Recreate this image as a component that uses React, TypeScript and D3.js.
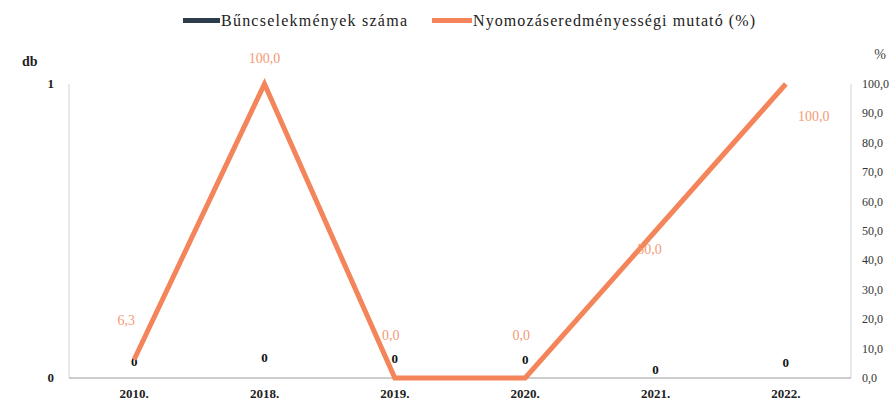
import React from 'react';
import * as d3 from 'd3';

const years = ['2010.', '2018.', '2019.', '2020.', '2021.', '2022.'];
const crimeCounts = [0, 0, 0, 0, 0, 0];
const successRate = [6.3, 100, 0, 0, 50, 100];
const rightTicks = [0, 10, 20, 30, 40, 50, 60, 70, 80, 90, 100];
const leftTicks = [0, 1];

// per-point label nudges (the scan places them unevenly)
const rateLabelOffset: [number, number][] = [[-8, -34], [0, -21], [-4, -38], [-4, -38], [-6, 23], [28, 37]];
const countLabelOffset = [-17, -21, -20, -19, -9, -16];

const W = 895, H = 406;
const M = { left: 69, right: 44, top: 84, bottom: 28 };
const ORANGE = '#F4845A';
const LABEL_ORANGE = '#F59A75';
const DARK = '#2E3D4C';
const FONT = '"Liberation Serif", "DejaVu Serif", serif';

export default function App() {
  const x = d3.scaleBand<string>().domain(years).range([M.left, W - M.right]);
  const yL = d3.scaleLinear().domain([0, 1]).range([H - M.bottom, M.top]);
  const yR = d3.scaleLinear().domain([0, 100]).range([H - M.bottom, M.top]);
  const cx = (i: number) => (x(years[i]) ?? 0) + x.bandwidth() / 2;
  const line = d3.line<number>().x((_, i) => cx(i)).y((d) => yR(d));
  const fmt = (v: number) => v.toFixed(1).replace('.', ',');
  const base = yL(0);

  return (
    <svg width={W} height={H} style={{ position: 'absolute', left: 0, top: 0, background: '#fff' }} fontFamily={FONT}>
      {/* legend */}
      <rect x={183} y={18} width={37} height={5} fill={DARK} />
      <text x={221} y={26} fontSize={16} fill="#222" textLength={186} lengthAdjust="spacing">Bűncselekmények száma</text>
      <rect x={432} y={18} width={40} height={5} fill={ORANGE} />
      <text x={473} y={26} fontSize={16} fill="#222" textLength={282} lengthAdjust="spacing">Nyomozáseredményességi mutató (%)</text>

      {/* axis titles */}
      <text x={22} y={66} fontSize={14} fontWeight="bold" fill="#222">db</text>
      <text x={880} y={59} fontSize={14} fill="#444" textAnchor="middle">%</text>

      {/* left axis */}
      <line x1={M.left} x2={M.left} y1={yL(1)} y2={base} stroke="#d4d4d4" />
      {leftTicks.map((t) => (
        <text key={t} x={54} y={yL(t) + 4} fontSize={13} fontWeight="bold" textAnchor="end" fill="#222">{t}</text>
      ))}

      {/* right axis */}
      <line x1={W - M.right} x2={W - M.right} y1={yR(100)} y2={base} stroke="#d4d4d4" />
      {rightTicks.map((t) => (
        <text key={t} x={862} y={yR(t) + 4} fontSize={12} fill="#333">{fmt(t)}</text>
      ))}

      {/* baseline */}
      <line x1={M.left} x2={W - M.right} y1={base} y2={base} stroke="#bdbdbd" strokeWidth={1.5} />

      {/* bars (zero-height) and their labels */}
      {crimeCounts.map((v, i) => (
        <g key={i}>
          <rect x={cx(i) - 20} width={40} y={yL(v)} height={base - yL(v)} fill={DARK} />
          <text x={cx(i)} y={yL(v) + countLabelOffset[i] + 5} fontSize={13} fontWeight="bold" textAnchor="middle" fill="#111">{v}</text>
        </g>
      ))}

      {/* x labels */}
      {years.map((y, i) => (
        <text key={y} x={cx(i)} y={398} fontSize={13} fontWeight="bold" textAnchor="middle" fill="#222">{y}</text>
      ))}

      {/* line */}
      <path d={line(successRate) ?? ''} fill="none" stroke={ORANGE} strokeWidth={5} strokeLinejoin="miter" />
      {successRate.map((v, i) => (
        <text key={i} x={cx(i) + rateLabelOffset[i][0]} y={yR(v) + rateLabelOffset[i][1]} fontSize={14} textAnchor="middle" fill={LABEL_ORANGE}>{fmt(v)}</text>
      ))}
    </svg>
  );
}
